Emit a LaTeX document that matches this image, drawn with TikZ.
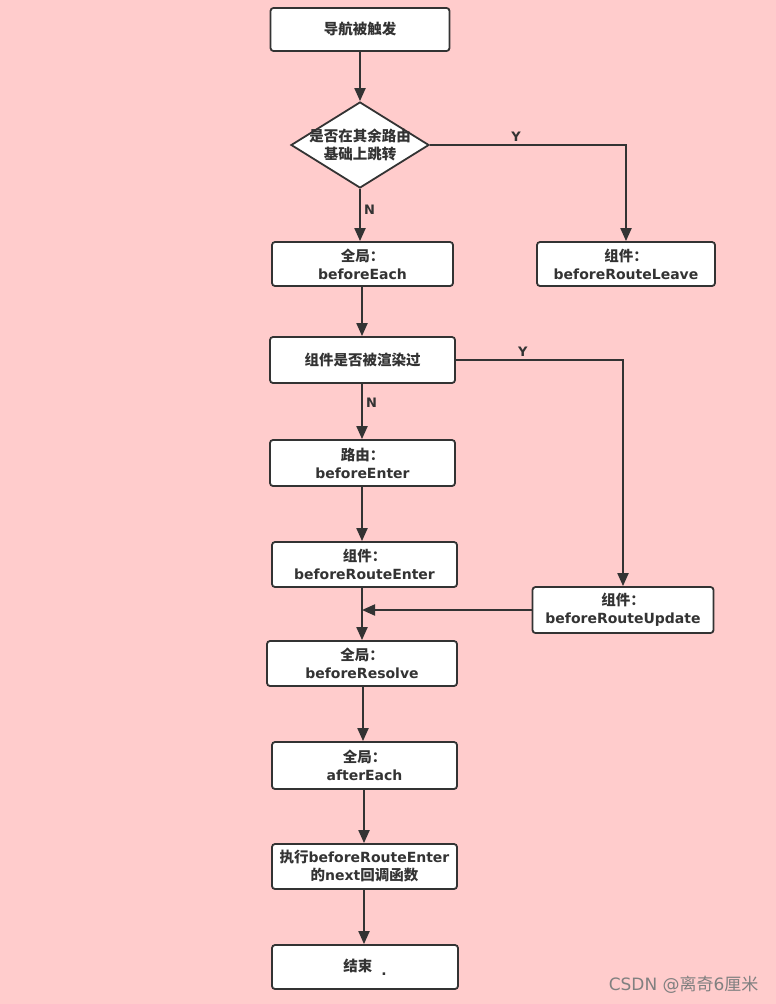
\documentclass[tikz,border=0pt]{standalone}
\usepackage{fontspec}
\setmainfont{DejaVu Sans}
\newfontfamily\cjk{Noto Sans CJK SC}
\usetikzlibrary{shapes.geometric, arrows.meta, positioning}
\definecolor{bgpink}{HTML}{FFCCCC}
\definecolor{ink}{HTML}{333333}
\newcommand{\zh}[1]{{\cjk\fontsize{14.5}{18}\selectfont #1}}
\tikzstyle{process} = [rectangle, draw=ink, line width=1.8pt, fill=white, rounded corners=3pt, text=ink, align=center, inner sep=0pt, font=\bfseries\fontsize{14}{18}\selectfont]
\tikzstyle{decision} = [diamond, draw=ink, line width=1.8pt, fill=white, inner sep=0pt, minimum width=138pt, minimum height=86pt]
\tikzstyle{flow} = [draw=ink, line width=2pt, -{Triangle[length=13pt,width=11pt]}]
\tikzstyle{yn} = [text=ink, font=\bfseries\fontsize{13}{15}\selectfont, inner sep=3pt]

\begin{document}
\begin{tikzpicture}[x=1pt, y=-1pt]
        \fill[bgpink] (0,0) rectangle (776,1004);
        \useasboundingbox (0,0) rectangle (776,1004);

        \node[process, minimum width=179pt, minimum height=43pt] at (360, 29.5) (trigger) {\zh{导航被触发}};
        \node[decision, label={[text=ink, align=center, font=\bfseries\fontsize{14}{18}\selectfont]center:\zh{是否在其余路由}\\\zh{基础上跳转}}] at (360, 145) (check) {};
        \node[process, minimum width=181pt, minimum height=44pt] at (362.5, 264) (each) {\zh{全局：}\\beforeEach};
        \node[process, minimum width=178pt, minimum height=44pt] at (626, 264) (leave) {\zh{组件：}\\beforeRouteLeave};
        \node[process, minimum width=185pt, minimum height=46pt] at (362.5, 360) (rendered) {\zh{组件是否被渲染过}};
        \node[process, minimum width=185pt, minimum height=46pt] at (362.5, 463) (enter) {\zh{路由：}\\beforeEnter};
        \node[process, minimum width=185pt, minimum height=45pt] at (364.5, 564.5) (rEnter) {\zh{组件：}\\beforeRouteEnter};
        \node[process, minimum width=181pt, minimum height=46pt] at (623, 610) (update) {\zh{组件：}\\beforeRouteUpdate};
        \node[process, minimum width=190pt, minimum height=45pt] at (362, 663.5) (resolve) {\zh{全局：}\\beforeResolve};
        \node[process, minimum width=185pt, minimum height=47pt] at (364.5, 765.5) (after) {\zh{全局：}\\afterEach};
        \node[process, minimum width=185pt, minimum height=45pt] at (364.5, 866.5) (callback) {\zh{执行}beforeRouteEnter\\\zh{的}next\zh{回调函数}};
        \node[process, minimum width=186pt, minimum height=44pt] at (365, 967) (finish) {\zh{结束}\hspace{9pt}\raisebox{-4pt}{.}};

        \coordinate (merge) at (362, 610);

        \draw[flow] (trigger) -- (check);
        \draw[flow] (check.east) -| (leave.north) node[yn, pos=0.22, above] {Y};
        \draw[flow] (check.south) -- (check.south |- each.north) node[yn, pos=0.4, right] {N};
        \draw[flow] (each.south -| merge) -- (rendered.north -| merge);
        \draw[flow] (rendered.east) -| (update.north) node[yn, pos=0.2, above] {Y};
        \draw[flow] (rendered.south -| merge) -- (enter.north -| merge) node[yn, pos=0.35, right] {N};
        \draw[flow] (enter.south -| merge) -- (rEnter.north -| merge);
        \draw[flow] (rEnter.south -| merge) -- (resolve.north -| merge);
        \draw[flow] (update.west) -- (merge);
        \draw[flow] (resolve.south -| merge) ++(1,0) -- (after.north -| 363, 0);
        \draw[flow] (after.south -| 364, 0) -- (callback.north -| 364, 0);
        \draw[flow] (callback.south -| 364, 0) -- (finish.north -| 364, 0);

        \node[text=gray, font=\fontsize{17}{19}\selectfont, anchor=east] at (762, 985) (mark) {CSDN @\zh{\fontsize{17}{19}\selectfont\mdseries 离奇}6\zh{\fontsize{17}{19}\selectfont\mdseries 厘米}};
    \end{tikzpicture}
\end{document}
